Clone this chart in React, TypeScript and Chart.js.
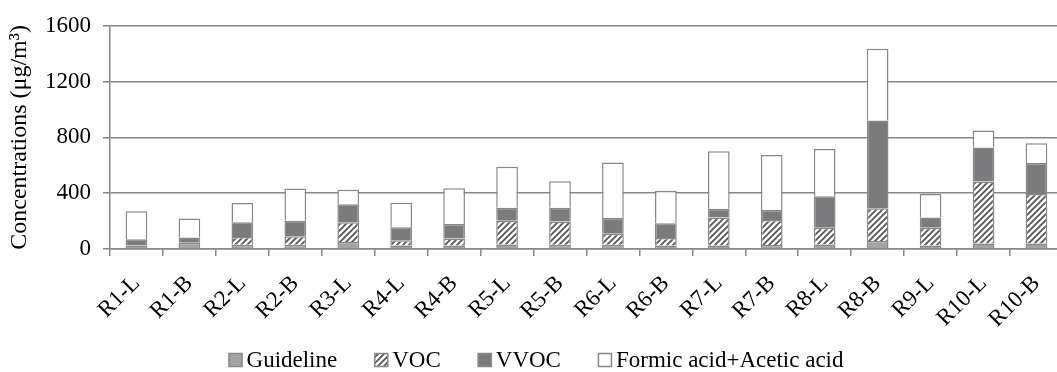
import React, { useEffect, useRef } from "react";
import { Chart, registerables } from "chart.js";

Chart.register(...registerables);

const categories = [
  "R1-L", "R1-B", "R2-L", "R2-B", "R3-L", "R4-L", "R4-B", "R5-L", "R5-B",
  "R6-L", "R6-B", "R7-L", "R7-B", "R8-L", "R8-B", "R9-L", "R10-L", "R10-B",
];

const guideline = [25, 45, 30, 30, 50, 25, 25, 33, 30, 30, 25, 25, 28, 32, 58, 25, 40, 40];
const voc = [0, 0, 56, 61, 141, 38, 50, 170, 168, 80, 54, 201, 180, 120, 234, 127, 443, 354];
const vvoc = [45, 37, 105, 112, 129, 93, 105, 93, 98, 112, 105, 63, 72, 226, 630, 74, 245, 222];
const formicAcetic = [200, 137, 138, 231, 105, 175, 256, 294, 189, 398, 234, 411, 394, 338, 513, 168, 121, 142];

const yTicks = [0, 400, 800, 1200, 1600];

const seriesLabels = ["Guideline", "VOC", "VVOC", "Formic acid+Acetic acid"];

const FONT = '"Liberation Serif", "Times New Roman", serif';
const GRID = "#878787";
const BORDER = "#888888";

function makeHatch(): CanvasPattern | string {
  const size = 6;
  const c = document.createElement("canvas");
  c.width = size;
  c.height = size;
  const g = c.getContext("2d");
  if (!g) return "#ddd";
  g.fillStyle = "#ffffff";
  g.fillRect(0, 0, size, size);
  g.strokeStyle = "#555555";
  g.lineWidth = 1.8;
  g.beginPath();
  g.moveTo(0, size);
  g.lineTo(size, 0);
  g.moveTo(-size / 2, size / 2);
  g.lineTo(size / 2, -size / 2);
  g.moveTo(size / 2, size * 1.5);
  g.lineTo(size * 1.5, size / 2);
  g.stroke();
  const p = g.createPattern(c, "repeat");
  return p || "#ddd";
}

const legendPlugin = {
  id: "customLegend",
  afterDraw(chart: any) {
    const ctx: CanvasRenderingContext2D = chart.ctx;
    ctx.save();
    ctx.font = `23px ${FONT}`;
    ctx.textBaseline = "alphabetic";
    const box = 14;
    const gap = 4;
    const spacing = 37;
    const items = chart.data.datasets.map((ds: any) => ({
      label: ds.label as string,
      fill: ds.backgroundColor,
      w: ctx.measureText(ds.label).width,
    }));
    let total = 0;
    items.forEach((it: any, i: number) => {
      total += box + gap + it.w + (i < items.length - 1 ? spacing : 0);
    });
    let x = 536 - total / 2;
    const baseline = 367;
    items.forEach((it: any) => {
      ctx.fillStyle = it.fill;
      ctx.fillRect(x, baseline - box, box, box);
      ctx.strokeStyle = BORDER;
      ctx.lineWidth = 1.5;
      ctx.strokeRect(x + 0.5, baseline - box + 0.5, box - 1, box - 1);
      ctx.fillStyle = "#000";
      ctx.fillText(it.label, x + box + gap, baseline);
      x += box + gap + it.w + spacing;
    });
    ctx.restore();
  },
};

export default function App() {
  const ref = useRef<HTMLCanvasElement>(null);

  useEffect(() => {
    if (!ref.current) return;
    const hatch = makeHatch();
    const fills = ["#a3a3a5", hatch, "#7b7b7d", "#ffffff"];
    const values = [guideline, voc, vvoc, formicAcetic];
    const chart = new Chart(ref.current, {
      type: "bar",
      data: {
        labels: categories,
        datasets: seriesLabels.map((label, i) => ({
          label,
          data: values[i],
          backgroundColor: fills[i] as any,
          borderColor: BORDER,
          borderWidth: 1.5,
          categoryPercentage: 1,
          barPercentage: 0.41,
        })),
      },
      options: {
        responsive: false,
        animation: false,
        layout: { padding: { top: 20, right: 1, left: 0, bottom: 0 } },
        plugins: {
          legend: { display: false },
          tooltip: { enabled: false },
        },
        scales: {
          x: {
            stacked: true,
            grid: {
              offset: true,
              drawOnChartArea: false,
              drawTicks: true,
              tickLength: 7,
              color: GRID,
              lineWidth: 1.5,
            },
            border: { color: GRID, width: 1.5 },
            ticks: {
              autoSkip: false,
              minRotation: 45,
              maxRotation: 45,
              color: "#000",
              font: { family: FONT, size: 23 },
              padding: 14,
            },
            afterFit: (s: any) => {
              s.height = 123;
            },
          },
          y: {
            stacked: true,
            min: 0,
            max: 1600,
            afterBuildTicks: (s: any) => {
              s.ticks = yTicks.map((v) => ({ value: v }));
            },
            grid: { color: GRID, lineWidth: 1.5, tickLength: 7 },
            border: { color: GRID, width: 1.5 },
            ticks: {
              color: "#000",
              font: { family: FONT, size: 23 },
              padding: 12,
              callback: (v: any) => String(v),
            },
            title: {
              display: true,
              text: "Concentrations (μg/m³)",
              color: "#000",
              font: { family: FONT, size: 24 },
              padding: { top: 5, bottom: 0 },
            },
            afterFit: (s: any) => {
              s.width = 110;
            },
          },
        },
      },
      plugins: [legendPlugin],
    });
    return () => chart.destroy();
  }, []);

  return (
    <div
      style={{
        position: "fixed",
        left: 0,
        top: 0,
        width: 1057,
        height: 372,
        overflow: "hidden",
        background: "#fff",
      }}
    >
      <canvas ref={ref} width={1070} height={372} style={{ display: "block" }} />
    </div>
  );
}
